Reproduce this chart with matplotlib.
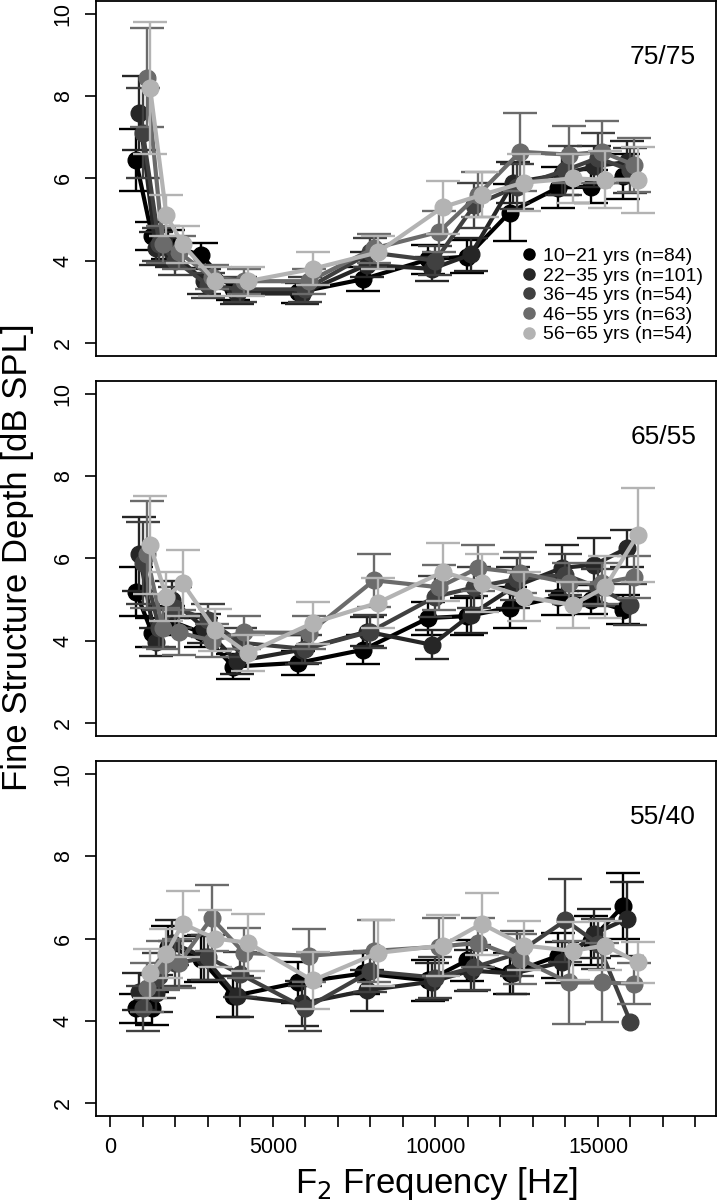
import matplotlib.pyplot as plt
from matplotlib.lines import Line2D
import numpy as np

plt.rcParams['font.family'] = ['Liberation Sans', 'DejaVu Sans']

freqs = [1000, 1500, 2000, 3000, 4000, 6000, 8000, 10000, 11200, 12500, 14000, 15000, 16000]
groups = ["10\u221221 yrs (n=84)", "22\u221235 yrs (n=101)", "36\u221245 yrs (n=54)",
          "46\u221255 yrs (n=63)", "56\u221265 yrs (n=54)"]
colors = ['#000000', '#262626', '#404040', '#6b6b6b', '#b3b3b3']
dodge = [-220, -110, 0, 110, 220]
panels = ["75/75", "65/55", "55/40"]

# 75/75
p1_mean = [
    [6.45, 4.6, 4.4, 4.13, 3.3, 3.23, 3.55, 4.03, 4.1, 5.17, 5.78, 5.8, 6.05],
    [7.6, 4.3, 4.2, 3.5, 3.2, 3.2, 3.9, 3.8, 4.15, 5.9, 6.1, 6.3, 6.4],
    [7.1, 4.4, 4.0, 3.4, 3.3, 3.3, 4.2, 4.0, 5.35, 5.8, 6.2, 6.5, 6.2],
    [8.45, 4.4, 4.2, 3.6, 3.5, 3.5, 4.3, 4.7, 5.6, 6.65, 6.58, 6.65, 6.33],
    [8.2, 5.1, 4.4, 3.5, 3.5, 3.8, 4.2, 5.3, 5.6, 5.9, 6.0, 5.97, 5.97],
]
p1_err = [
    [0.75, 0.35, 0.35, 0.3, 0.25, 0.25, 0.3, 0.35, 0.4, 0.7, 0.5, 0.4, 0.55],
    [0.9, 0.4, 0.35, 0.3, 0.25, 0.25, 0.3, 0.3, 0.4, 0.5, 0.5, 0.5, 0.5],
    [1.1, 0.4, 0.35, 0.3, 0.3, 0.3, 0.35, 0.35, 0.55, 0.55, 0.6, 0.6, 0.55],
    [1.2, 0.45, 0.4, 0.3, 0.3, 0.3, 0.35, 0.5, 0.55, 0.95, 0.7, 0.75, 0.65],
    [1.6, 0.5, 0.45, 0.35, 0.35, 0.4, 0.4, 0.65, 0.55, 0.7, 0.6, 0.7, 0.8],
]

# 65/55
p2_mean = [
    [5.19, 4.19, 4.5, 4.2, 3.37, 3.46, 3.78, 4.55, 4.6, 4.8, 5.07, 5.0, 4.75],
    [6.1, 3.97, 5.0, 4.3, 3.5, 3.78, 4.22, 3.9, 4.63, 5.3, 5.77, 5.85, 6.25],
    [5.9, 4.3, 4.8, 4.5, 3.95, 3.8, 4.22, 5.07, 5.3, 5.5, 5.6, 5.3, 4.87],
    [6.1, 4.3, 4.2, 4.0, 4.2, 4.19, 5.47, 5.3, 5.77, 5.65, 5.4, 5.4, 5.55],
    [6.33, 5.07, 5.4, 4.26, 3.7, 4.43, 4.92, 5.67, 5.4, 5.07, 4.87, 5.3, 6.57],
]
p2_err = [
    [0.6, 0.35, 0.35, 0.35, 0.3, 0.3, 0.35, 0.4, 0.45, 0.5, 0.45, 0.35, 0.35],
    [0.9, 0.35, 0.45, 0.35, 0.3, 0.35, 0.35, 0.35, 0.45, 0.5, 0.55, 0.65, 0.45],
    [1.0, 0.45, 0.5, 0.4, 0.35, 0.35, 0.4, 0.5, 0.5, 0.5, 0.5, 0.45, 0.5],
    [1.3, 0.5, 0.55, 0.4, 0.4, 0.4, 0.65, 0.55, 0.55, 0.5, 0.5, 0.5, 0.5],
    [1.2, 0.6, 0.8, 0.5, 0.45, 0.5, 0.6, 0.7, 0.7, 0.6, 0.55, 0.75, 1.15],
]

# 55/40
p3_mean = [
    [4.3, 4.3, 5.8, 5.5, 4.6, 4.93, 5.15, 4.98, 5.47, 5.15, 5.58, 5.95, 6.8],
    [4.7, 4.67, 5.9, 5.54, 4.6, 4.42, 4.74, 4.95, 5.22, 5.15, 5.42, 6.12, 6.48],
    [4.3, 5.1, 5.4, 5.54, 5.13, 4.3, 5.2, 5.05, 5.3, 5.63, 6.44, 5.87, 3.97],
    [4.8, 5.35, 5.4, 6.5, 5.65, 5.58, 5.7, 5.8, 5.9, 5.5, 4.93, 4.93, 4.9],
    [5.15, 5.63, 6.36, 6.0, 5.9, 4.98, 5.65, 5.83, 6.36, 5.83, 5.7, 5.83, 5.42],
]
p3_err = [
    [0.35, 0.4, 0.5, 0.55, 0.5, 0.5, 0.5, 0.5, 0.5, 0.5, 0.55, 0.6, 0.8],
    [0.45, 0.45, 0.55, 0.55, 0.5, 0.55, 0.5, 0.45, 0.5, 0.5, 0.5, 0.6, 0.9],
    [0.55, 0.55, 0.55, 0.55, 0.55, 0.55, 0.5, 0.5, 0.55, 0.55, 1.0, 0.6, 0.0],
    [0.6, 0.6, 0.6, 0.8, 0.6, 0.65, 0.75, 0.7, 0.6, 0.6, 1.0, 0.95, 0.5],
    [0.6, 0.6, 0.8, 0.7, 0.7, 0.7, 0.8, 0.75, 0.75, 0.6, 0.7, 0.6, 0.5],
]

means = [p1_mean, p2_mean, p3_mean]
errs = [p1_err, p2_err, p3_err]

fig = plt.figure(figsize=(7.2, 12.03), dpi=100)
bottoms = [0.7041, 0.3882, 0.0723]

for k in range(3):
    ax = fig.add_axes([0.1333, bottoms[k], 0.8611, 0.2951])
    for g in range(5):
        x = np.array(freqs) + dodge[g]
        y = np.array(means[k][g])
        e = np.array(errs[k][g])
        m = e > 0
        ax.errorbar(x[m], y[m], yerr=e[m], fmt='none', ecolor=colors[g],
                    elinewidth=1.7, capsize=12, capthick=1.7, zorder=2 + g)
        ax.plot(x, y, '-o', color=colors[g], lw=3, ms=12, zorder=2 + g)

    ax.set_xlim(-446, 18631)
    ax.set_ylim(1.68, 10.32)
    ax.set_yticks([2, 4, 6, 8, 10])
    ax.set_yticklabels(['2', '4', '6', '8', '10'], rotation=90, va='center', fontsize=15.5)
    for s in ax.spines.values():
        s.set_linewidth(1.3)
    ax.tick_params(axis='y', length=8, width=1.2, pad=8)
    if k < 2:
        ax.set_xticks([])
    else:
        ticks = list(range(0, 18001, 1000))
        ax.set_xticks(ticks)
        ax.set_xticklabels([str(t) if t % 5000 == 0 else '' for t in ticks], fontsize=15.5)
        ax.tick_params(axis='x', length=8, width=1.2, pad=7)
    ax.text(0.968, 0.842, panels[k], transform=ax.transAxes, ha='right', va='center',
            fontsize=19)

    if k == 0:
        handles = [Line2D([], [], marker='o', ls='none', color=c, markersize=8) for c in colors]
        ax.legend(handles, groups, loc='lower right', bbox_to_anchor=(1.0, 0.0),
                  frameon=False, fontsize=14, handletextpad=0.15, labelspacing=0.1,
                  borderaxespad=0.25, handlelength=1.2)

fig.text(0.024, 1 - 557 / 1203, "Fine Structure Depth [dB SPL]", rotation=90,
         ha='center', va='center', fontsize=25)
fig.text(436 / 720, 1 - 1183 / 1203, "F$_2$ Frequency [Hz]", ha='center', va='center',
         fontsize=25)

fig.savefig('out.png', dpi=100)
